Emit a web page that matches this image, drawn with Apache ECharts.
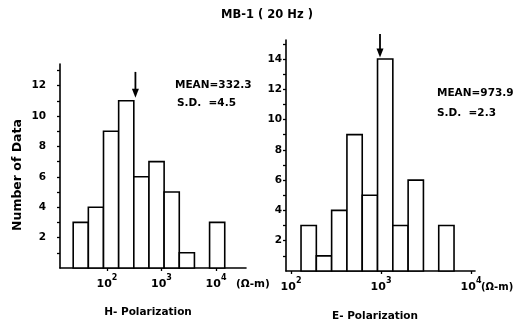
<!DOCTYPE html>
<html><head><meta charset="utf-8">
<script src="https://cdn.jsdelivr.net/npm/echarts@6/dist/echarts.min.js"></script>
<style>html,body{margin:0;padding:0;background:#fff}#c{width:517px;height:333px}</style>
</head><body><div id="c"></div>
<script>
// ---- data ----
const chartTitle = 'MB-1 ( 20 Hz )';
const yAxisTitle = 'Number of Data';
const hTitle = 'H- Polarization';
const eTitle = 'E- Polarization';
const unitLabel = '(\u03A9-m)';
const xTickExps = [2, 3, 4];               // decades 10^2,10^3,10^4
const hYLabels = [2, 4, 6, 8, 10, 12];
const eYLabels = [2, 4, 6, 8, 10, 12, 14];
// bin edges in log10(resistivity)
const hEdges = [1.38, 1.658, 1.936, 2.214, 2.492, 2.77, 3.048, 3.326, 3.604, 3.882, 4.16];
const hCounts = [3, 4, 9, 11, 6, 7, 5, 1, 0, 3];
const eEdges = [2.111, 2.281, 2.451, 2.621, 2.791, 2.961, 3.131, 3.301, 3.471, 3.641, 3.811];
const eCounts = [3, 1, 4, 9, 5, 14, 3, 6, 0, 3];
const hMean = 332.3, hSD = 4.5;
const eMean = 973.9, eSD = 2.3;

// ---- build ----
const FONT = 'DejaVu Sans';
function bins(edges, counts) {
  return counts.map((c, i) => [edges[i], edges[i + 1], c]);
}
function renderHist(params, api) {
  const c = api.value(2);
  if (!c) return null;
  const p0 = api.coord([api.value(0), 0]);
  const p1 = api.coord([api.value(1), c]);
  return {
    type: 'rect',
    shape: { x: p0[0], y: p1[1], width: p1[0] - p0[0], height: p0[1] - p1[1] },
    style: { fill: '#fff', stroke: '#000', lineWidth: 1.6 }
  };
}
function renderArrow(params, api) {
  const tip = api.coord([api.value(0), api.value(1)]);
  const tail = api.coord([api.value(0), api.value(2)]);
  return {
    type: 'group',
    children: [
      { type: 'line', shape: { x1: tail[0], y1: tail[1], x2: tip[0], y2: tip[1] - 6 }, style: { stroke: '#000', lineWidth: 1.8 } },
      { type: 'polygon', shape: { points: [[tip[0] - 3.5, tip[1] - 9], [tip[0] + 3.5, tip[1] - 9], [tip[0], tip[1]]] }, style: { fill: '#000' } }
    ]
  };
}
const rich = {
  b: { fontFamily: FONT, fontWeight: 'bold', fontSize: 11, color: '#000', lineHeight: 16, verticalAlign: 'bottom' },
  s: { fontFamily: FONT, fontWeight: 'bold', fontSize: 8, color: '#000', lineHeight: 16, verticalAlign: 'top' }
};
function xAxis(grid, min, max) {
  return {
    type: 'value', gridIndex: grid, min: min, max: max,
    axisLine: { lineStyle: { color: '#000', width: 1.6 } },
    splitLine: { show: false },
    axisTick: { customValues: xTickExps, length: 3, lineStyle: { color: '#000', width: 1.3 } },
    axisLabel: { customValues: xTickExps, margin: 6, formatter: v => '{b|10}{s|' + v + '}', rich: rich }
  };
}
function yAxis(grid, max, labels, margin) {
  const ticks = [];
  for (let i = 1; i <= Math.floor(max); i++) ticks.push(i);
  return {
    type: 'value', gridIndex: grid, min: 0, max: max,
    axisLine: { show: true, lineStyle: { color: '#000', width: 1.6 } },
    splitLine: { show: false },
    axisTick: { show: true, customValues: ticks, length: 3, lineStyle: { color: '#000', width: 1.3 } },
    axisLabel: { customValues: labels, margin: margin, fontFamily: FONT, fontWeight: 'bold', fontSize: 10.5, color: '#000' }
  };
}
function txt(x, y, s, size, align) {
  return {
    type: 'text', x: x, y: y,
    style: { text: s, fontFamily: FONT, fontWeight: 'bold', fontSize: size, fill: '#000', textAlign: align || 'left', textVerticalAlign: 'middle' }
  };
}

const chart = echarts.init(document.getElementById('c'), null, { renderer: 'canvas' });
chart.setOption({
  animation: false,
  backgroundColor: '#fff',
  grid: [
    { left: 60, top: 64, width: 186, height: 204 },
    { left: 286, top: 40, width: 189, height: 231 }
  ],
  xAxis: [xAxis(0, 1.138, 4.55), xAxis(1, 1.944, 4.044)],
  yAxis: [yAxis(0, 13.42, hYLabels, 14), yAxis(1, 15.25, eYLabels, 4)],
  series: [
    { type: 'custom', xAxisIndex: 0, yAxisIndex: 0, renderItem: renderHist, data: bins(hEdges, hCounts), encode: { x: [0, 1], y: 2 }, clip: false },
    { type: 'custom', xAxisIndex: 1, yAxisIndex: 1, renderItem: renderHist, data: bins(eEdges, eCounts), encode: { x: [0, 1], y: 2 }, clip: false },
    { type: 'custom', xAxisIndex: 0, yAxisIndex: 0, renderItem: renderArrow, data: [[Math.log10(hMean), 11.2, 12.9]], encode: { x: 0, y: [1, 2] }, clip: false },
    { type: 'custom', xAxisIndex: 1, yAxisIndex: 1, renderItem: renderArrow, data: [[Math.log10(eMean), 14.1, 15.65]], encode: { x: 0, y: [1, 2] }, clip: false }
  ],
  graphic: [
    txt(267, 15, chartTitle, 11.5, 'center'),
    { type: 'text', x: 18, y: 175, rotation: Math.PI / 2,
      style: { text: yAxisTitle, fontFamily: FONT, fontWeight: 'bold', fontSize: 12.5, fill: '#000', textAlign: 'center', textVerticalAlign: 'middle' } },
    txt(175, 85, 'MEAN=' + hMean, 10.5),
    txt(177, 103, 'S.D.  =' + hSD, 10.5),
    txt(437, 93, 'MEAN=' + eMean, 10.5),
    txt(437, 113, 'S.D.  =' + eSD, 10.5),
    txt(236, 284, unitLabel, 10.5),
    txt(481, 287, unitLabel, 10),
    txt(148, 312, hTitle, 10.5, 'center'),
    txt(375, 316, eTitle, 10.5, 'center')
  ]
});
</script>
</body></html>
